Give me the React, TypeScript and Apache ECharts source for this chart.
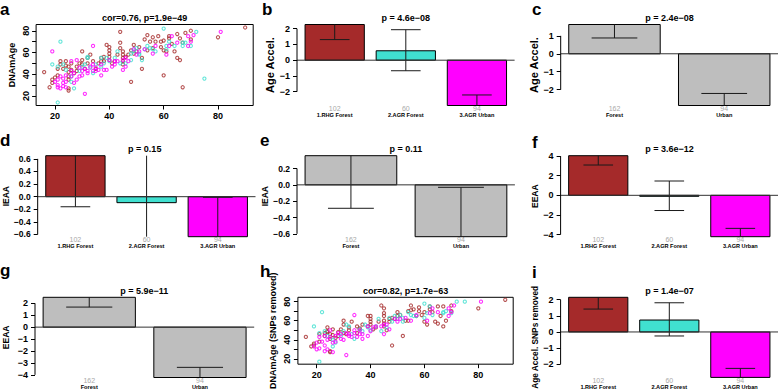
import React, { useEffect, useRef } from "react";
import * as echarts from "echarts";

const FONT = "'Liberation Sans', Arial, Helvetica, sans-serif";

// ---------- scatter data (chronological age, DNAm age) ----------
const rhgA = [[16,42],[18,28],[19,32],[19,35],[20,37],[21,39],[21,45],[22,49],[22,52],[24,52],[25,47],[25,42],[25,38],[25,35],[25,27],[25,25],[30,61],[30,53],[30,49],[32,55],[32,50],[33,58],[34,52],[37,52],[37,55],[38,56],[38,52],[39,67],[40,62],[40,65],[40,59],[40,56],[40,53],[41,50],[44,79],[44,69],[44,64],[45,61],[45,58],[45,55],[45,52],[45,49],[46,56],[48,33],[49,59],[49,67],[50,61],[52,45],[52,55],[53,72],[54,62],[54,76],[56,74],[56,64],[57,70],[59,65],[59,70],[60,62],[60,39],[60,71],[61,61],[62,73],[62,75],[64,61],[65,77],[66,53],[66,73],[67,69],[67,28],[68,78],[70,80],[70,72],[80,74],[90,83],[23,45],[24,48],[26,44],[27,41],[28,47],[28,43],[29,50],[26,50],[31,45],[35,45],[36,50],[42,52],[43,58],[47,58],[48,62],[51,65],[55,70],[58,75],[63,68],[65,55]];
const agrA = [[22,70],[19,49],[21,47],[23,49],[24,44],[26,38],[26,33],[27,27],[29,43],[30,47],[31,49],[32,55],[32,56],[33,46],[34,41],[35,49],[37,47],[37,55],[38,50],[39,55],[40,52],[42,55],[43,61],[44,50],[46,50],[48,59],[48,53],[49,63],[49,61],[50,64],[51,58],[51,59],[52,53],[53,63],[54,66],[55,64],[56,63],[57,61],[60,82],[61,63],[61,66],[62,70],[64,66],[67,66],[67,69],[68,69],[70,66],[72,79],[75,36],[21,14]];
const urbA = [[19,61],[20,33],[21,30],[21,28],[21,35],[22,38],[22,27],[23,32],[23,36],[23,29],[24,33],[24,39],[24,28],[26,43],[26,38],[27,32],[27,41],[28,35],[29,46],[29,38],[30,43],[30,39],[31,45],[31,22],[32,41],[32,43],[33,47],[34,43],[34,49],[35,46],[35,43],[36,44],[37,49],[37,39],[38,44],[39,44],[40,53],[41,47],[42,49],[42,52],[43,52],[45,53],[45,44],[46,55],[46,47],[47,52],[49,63],[50,58],[51,61],[53,63],[56,59],[57,66],[61,58],[62,66],[63,75],[65,69],[69,75],[69,66],[70,70],[71,76],[81,79],[34,66],[26,52],[28,53]];

const rhgH = [[16,43],[18,33],[19,34],[19,36],[21,38],[21,46],[23,47],[24,49],[24,53],[25,46],[25,41],[25,28],[25,27],[30,60],[30,56],[30,47],[32,53],[32,50],[33,59],[35,54],[36,51],[37,56],[39,54],[39,65],[40,62],[40,65],[40,59],[40,56],[41,51],[44,76],[45,73],[45,68],[45,65],[45,60],[45,57],[45,54],[46,50],[47,62],[48,34],[49,62],[50,69],[50,65],[52,44],[53,60],[54,70],[54,60],[55,76],[56,72],[57,65],[58,70],[59,66],[60,59],[60,69],[61,56],[62,72],[62,75],[64,59],[65,75],[66,65],[67,54],[67,75],[68,60],[70,76],[70,70],[80,73],[90,82],[23,44],[24,48],[26,45],[27,42],[28,48],[28,44],[29,51],[26,51],[31,46],[35,47],[36,52],[42,53],[43,59],[47,59],[48,63],[51,66],[55,71],[58,74],[63,69],[65,57]];
const agrH = [[22,69],[19,54],[21,47],[23,49],[24,44],[26,40],[26,33],[27,37],[29,44],[30,49],[31,56],[32,54],[33,46],[34,41],[36,51],[37,49],[38,56],[39,53],[40,50],[42,54],[43,62],[44,49],[46,53],[47,63],[48,59],[49,65],[50,62],[51,66],[52,59],[52,63],[54,69],[55,66],[56,65],[57,65],[60,78],[60,63],[61,68],[62,75],[63,66],[67,68],[67,69],[68,70],[70,68],[72,80],[75,80],[21,17]];
const urbH = [[19,33],[20,30],[20,37],[21,43],[21,31],[22,38],[23,44],[23,28],[23,34],[24,40],[24,30],[25,43],[26,37],[26,27],[27,44],[27,38],[28,47],[29,41],[29,46],[30,40],[31,47],[31,24],[32,44],[32,46],[33,43],[34,50],[34,47],[35,43],[36,46],[36,50],[37,41],[37,46],[39,44],[39,54],[40,49],[41,53],[42,54],[44,54],[45,56],[45,46],[46,56],[47,51],[49,62],[50,59],[51,62],[53,63],[55,60],[57,66],[61,60],[62,68],[63,73],[65,69],[69,73],[69,65],[70,69],[71,76],[81,80],[34,66],[25,50]];

const scatterXTicks = [20, 40, 60, 80];
const scatterYTicks = [20, 30, 40, 50, 60, 70, 80];
const scatterYLabels = [20, 40, 60, 80];

// ---------- group bars ----------
const groups3 = ["1.RHG Forest", "2.AGR Forest", "3.AGR Urban"];
const counts3 = [102, 60, 94];
const groups2 = ["Forest", "Urban"];
const counts2 = [162, 94];

const ageAccel3Mean = [2.27, 0.6, -2.88];
const ageAccel3Lo = [1.31, -0.67, -3.55];
const ageAccel3Hi = [3.23, 1.94, -2.21];
const ageAccel2Mean = [1.63, -2.88];
const ageAccel2Lo = [0.88, -3.55];
const ageAccel2Hi = [2.38, -2.21];
const ieaa3Mean = [0.65, -0.095, -0.635];
const ieaa3Lo = [-0.16, -0.9, -1.26];
const ieaa3Hi = [1.46, 0.71, -0.01];
const ieaa2Mean = [0.357, -0.635];
const ieaa2Lo = [-0.287, -1.24];
const ieaa2Hi = [1.0, -0.03];
const eeaa3Mean = [4.04, -0.1, -4.22];
const eeaa3Lo = [3.09, -1.55, -5.07];
const eeaa3Hi = [4.99, 1.46, -3.37];
const eeaa2Mean = [2.5, -4.22];
const eeaa2Lo = [1.68, -5.07];
const eeaa2Hi = [3.32, -3.37];
const snp3Mean = [2.15, 0.74, -2.82];
const snp3Lo = [1.42, -0.25, -3.38];
const snp3Hi = [2.88, 1.81, -2.26];

const ticksB = [-2, -1, 0, 1, 2];
const ticksC = [-2, -1, 0, 1];
const ticksD = [-0.6, -0.4, -0.2, 0, 0.2, 0.4, 0.6];
const ticksE = [-0.6, -0.4, -0.2, 0, 0.2];
const ticksF = [-4, -2, 0, 2, 4];
const ticksG = [-4, -3, -2, -1, 0, 1, 2];
const ticksI = [-2, -1, 0, 1, 2];

const COL3 = ["#A52A2A", "#40E0D0", "#FF00FF"];
const COL2 = ["#BEBEBE", "#BEBEBE"];

type Rect = { L: number; R: number; T: number; B: number };

function fmt(v: number, d: number) {
  const s = Math.abs(v).toFixed(d);
  return (v < -1e-9 ? "\u2212" : "") + s;
}

function buildOption() {
  const grid: any[] = [];
  const xAxis: any[] = [];
  const yAxis: any[] = [];
  const series: any[] = [];
  const graphic: any[] = [];
  const tickLine = { color: "#000", width: 1 };
  const lab = { color: "#000", fontSize: 9, fontFamily: FONT, fontWeight: "bold" as const };

  const addText = (text: string, x: number, y: number, font: string, align = "center", fill = "#000") => {
    graphic.push({
      type: "text", x, y, silent: true,
      style: { text, font, fill, textAlign: align, align, textVerticalAlign: "middle", verticalAlign: "middle" },
    });
  };

  const addGrid = (r: Rect, border: boolean) => {
    grid.push({ left: r.L, top: r.T, width: r.R - r.L, height: r.B - r.T, show: border, borderColor: "#000", borderWidth: 1, backgroundColor: "transparent" });
    return grid.length - 1;
  };

  const addScatter = (r: Rect, title: string, yName: string, nameGap: number, nameSize: number, sets: { pts: number[][]; color: string }[]) => {
    const gi = addGrid(r, true);
    const all = sets.flatMap((s) => s.pts);
    const ext = (a: number[]) => {
      const lo = Math.min(...a), hi = Math.max(...a), d = (hi - lo) * 0.04;
      return [lo - d, hi + d];
    };
    const [x0, x1] = ext(all.map((p) => p[0]));
    const [y0, y1] = ext(all.map((p) => p[1]));
    xAxis.push({
      gridIndex: gi, type: "value", min: x0, max: x1,
      axisLine: { show: false }, splitLine: { show: false },
      axisTick: { show: true, length: 4, customValues: scatterXTicks, lineStyle: tickLine },
      axisLabel: { ...lab, customValues: scatterXTicks, margin: 6 },
    });
    yAxis.push({
      gridIndex: gi, type: "value", min: y0, max: y1,
      axisLine: { show: false }, splitLine: { show: false },
      axisTick: { show: true, length: 4, customValues: scatterYTicks, lineStyle: tickLine },
      axisLabel: { ...lab, customValues: scatterYLabels, rotate: 90, margin: 6 },
      name: yName, nameLocation: "middle", nameGap, nameRotate: 90, nameTextStyle: { ...lab, fontSize: nameSize },
    });
    sets.forEach((s) =>
      series.push({
        type: "scatter", xAxisIndex: gi, yAxisIndex: gi, data: s.pts, symbol: "circle", symbolSize: 3.2,
        itemStyle: { color: "rgba(0,0,0,0)", borderColor: s.color, borderWidth: 1.1 }, silent: true, animation: false,
      })
    );
    addText(title, (r.L + r.R) / 2, r.T - 6.8, `bold 9px ${FONT}`);
  };

  const addBars = (
    r: Rect, title: string, yName: string, nameGap: number, nameSize: number, tickSize: number,
    names: string[], counts: number[],
    mean: number[], lo: number[], hi: number[], colors: string[], ticks: number[], dec: number
  ) => {
    const gi = addGrid(r, false);
    const n = mean.length;
    const span = 1.2 * n - 0.2;
    const xmin = 0.2 - 0.04 * span, xmax = 1.2 * n + 0.04 * span;
    const ymin = Math.min(...mean), ymax = Math.max(...mean);
    xAxis.push({ gridIndex: gi, type: "value", min: xmin, max: xmax, show: false });
    yAxis.push({
      gridIndex: gi, type: "value", min: ymin, max: ymax,
      axisLine: { show: false }, splitLine: { show: false },
      axisTick: { show: true, length: 4, customValues: ticks, lineStyle: tickLine },
      axisLabel: { ...lab, fontSize: tickSize, customValues: ticks, margin: 7, formatter: (v: number) => fmt(v, dec) },
      name: yName, nameLocation: "middle", nameGap, nameRotate: 90, nameTextStyle: { ...lab, fontSize: nameSize },
    });
    const clamp = (v: number) => Math.max(ymin, Math.min(ymax, v));
    series.push({
      type: "custom", xAxisIndex: gi, yAxisIndex: gi, silent: true, clip: false, animation: false,
      data: mean.map((m, i) => [i, m, lo[i], hi[i]]),
      renderItem: (_p: any, api: any) => {
        const i = api.value(0), m = api.value(1), l = api.value(2), h = api.value(3);
        const xa = 0.2 + 1.2 * i, xb = xa + 1, xc = xa + 0.5;
        const p1 = api.coord([xa, Math.max(m, 0)]);
        const p2 = api.coord([xb, Math.min(m, 0)]);
        const children: any[] = [];
        const cb = api.coord([xc, ymin]);
        children.push({ type: "text", x: cb[0], y: cb[1] + 2.8, style: { text: String(counts[i]), font: `7px ${FONT}`, fill: "#A8A8A8", textAlign: "center", align: "center", textVerticalAlign: "middle", verticalAlign: "middle" } });
        children.push({ type: "text", x: cb[0], y: cb[1] + 9.3, style: { text: names[i], font: `bold 5.6px ${FONT}`, fill: "#000", textAlign: "center", align: "center", textVerticalAlign: "middle", verticalAlign: "middle" } });
        children.push({ type: "rect", shape: { x: p1[0], y: p1[1], width: p2[0] - p1[0], height: p2[1] - p1[1] }, style: { fill: colors[i], stroke: "#000", lineWidth: 1 } });
        const pl = api.coord([xc, clamp(l)]), ph = api.coord([xc, clamp(h)]);
        const es = { stroke: "#1a1a1a", lineWidth: 1 };
        children.push({ type: "line", shape: { x1: pl[0], y1: pl[1], x2: ph[0], y2: ph[1] }, style: es });
        if (l >= ymin) {
          const a = api.coord([xc - 0.25, l]), b = api.coord([xc + 0.25, l]);
          children.push({ type: "line", shape: { x1: a[0], y1: a[1], x2: b[0], y2: b[1] }, style: es });
        }
        if (h <= ymax) {
          const a = api.coord([xc - 0.25, h]), b = api.coord([xc + 0.25, h]);
          children.push({ type: "line", shape: { x1: a[0], y1: a[1], x2: b[0], y2: b[1] }, style: es });
        }
        return { type: "group", children };
      },
    });
    // zero line and left axis line (R style: spans first to last tick)
    series.push({
      type: "custom", xAxisIndex: gi, yAxisIndex: gi, silent: true, clip: false, animation: false, z: 3,
      data: [[0]],
      renderItem: (_p: any, api: any) => {
        const z0 = api.coord([xmin, 0]), z1 = api.coord([xmax, 0]);
        const a0 = api.coord([xmin, ticks[0]]), a1 = api.coord([xmin, ticks[ticks.length - 1]]);
        return {
          type: "group",
          children: [
            { type: "line", shape: { x1: z0[0], y1: z0[1], x2: z1[0], y2: z1[1] }, style: { stroke: "#333", lineWidth: 1 } },
            { type: "line", shape: { x1: a0[0], y1: a0[1], x2: a1[0], y2: a1[1] }, style: { stroke: "#000", lineWidth: 1 } },
          ],
        };
      },
    });
    addText(title, (r.L + r.R) / 2, r.T - 6.8, `bold 9px ${FONT}`);
  };

  const R1 = { T: 24.5, B: 105.5 };
  const R2 = { T: 155.7, B: 236.7 };
  const R3 = { T: 297.3, B: 377.5 };

  addScatter({ L: 36.1, R: 253.2, ...R1 }, "cor=0.76, p=1.9e\u221249", "DNAmAge", 19.5, 9,
    [{ pts: rhgA, color: COL3[0] }, { pts: agrA, color: COL3[1] }, { pts: urbA, color: COL3[2] }]);
  addBars({ L: 297, R: 514.6, ...R1 }, "p = 4.6e\u221208", "Age Accel.", 19.5, 11, 9, groups3, counts3, ageAccel3Mean, ageAccel3Lo, ageAccel3Hi, COL3, ticksB, 0);
  addBars({ L: 560.7, R: 778.3, ...R1 }, "p = 2.4e\u221208", "Age Accel.", 19, 11, 9, groups2, counts2, ageAccel2Mean, ageAccel2Lo, ageAccel2Hi, COL2, ticksC, 0);

  addBars({ L: 34, R: 255.5, ...R2 }, "p = 0.15", "IEAA", 24.5, 8.5, 8.5, groups3, counts3, ieaa3Mean, ieaa3Lo, ieaa3Hi, COL3, ticksD, 1);
  addBars({ L: 297, R: 514.9, ...R2 }, "p = 0.11", "IEAA", 21, 8.5, 8.5, groups2, counts2, ieaa2Mean, ieaa2Lo, ieaa2Hi, COL2, ticksE, 1);
  addBars({ L: 560.6, R: 778.3, ...R2 }, "p = 3.6e\u221212", "EEAA", 20, 8.5, 9, groups3, counts3, eeaa3Mean, eeaa3Lo, eeaa3Hi, COL3, ticksF, 0);

  addBars({ L: 34.5, R: 254.2, ...R3 }, "p = 5.9e\u221211", "EEAA", 25, 8.5, 9, groups2, counts2, eeaa2Mean, eeaa2Lo, eeaa2Hi, COL2, ticksG, 0);
  addScatter({ L: 297.9, R: 513.2, ...R3 }, "cor=0.82, p=1.7e\u221263", "DNAmAge (SNPs removed)", 20.5, 9,
    [{ pts: rhgH, color: COL3[0] }, { pts: agrH, color: COL3[1] }, { pts: urbH, color: COL3[2] }]);
  addBars({ L: 560.6, R: 778.3, ...R3 }, "p = 1.4e\u221207", "Age Accel. SNPs removed", 20, 8.3, 9, groups3, counts3, snp3Mean, snp3Lo, snp3Hi, COL3, ticksI, 0);

  const letters: [string, number, number][] = [
    ["a", 0, 9], ["b", 262, 9], ["c", 532, 9.5],
    ["d", 0, 140.5], ["e", 260, 140], ["f", 532, 142],
    ["g", 0, 270.5], ["h", 260, 271], ["i", 532, 272],
  ];
  letters.forEach(([t, x, y]) => addText(t, x, y, `bold 17px ${FONT}`, "left"));

  return {
    animation: false,
    backgroundColor: "#fff",
    grid, xAxis, yAxis, series, graphic,
  };
}

export default function App() {
  const ref = useRef<HTMLDivElement>(null);
  useEffect(() => {
    if (!ref.current) return;
    const chart = echarts.init(ref.current, null, { renderer: "svg" });
    chart.setOption(buildOption() as any);
    return () => chart.dispose();
  }, []);
  return (
    <div
      ref={ref}
      style={{ position: "fixed", left: 0, top: 0, width: 778, height: 391, background: "#fff" }}
    />
  );
}
